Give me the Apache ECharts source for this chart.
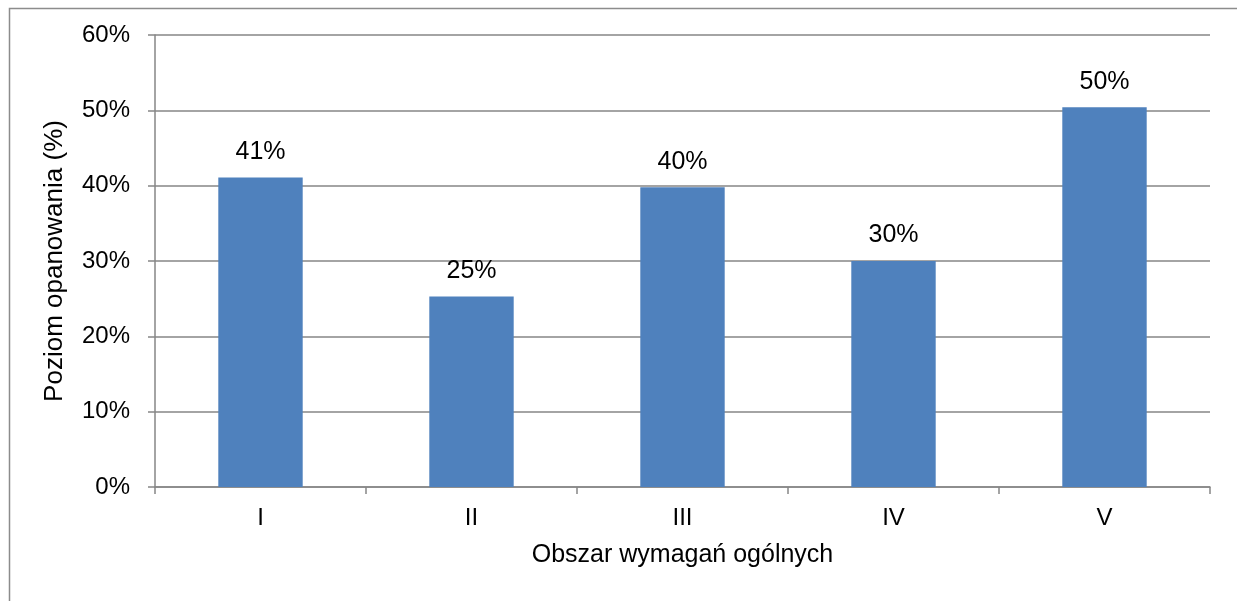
<!DOCTYPE html>
<html><head><meta charset="utf-8">
<script src="https://cdn.jsdelivr.net/npm/echarts@6/dist/echarts.min.js"></script>
<style>html,body{margin:0;padding:0;background:#fff}#c{width:1237px;height:601px}</style>
</head><body><div id="c"></div>
<script>
const categories = ['I', 'II', 'III', 'IV', 'V'];
const values = [0.411, 0.253, 0.398, 0.300, 0.504];
const yTicks = [0, 0.1, 0.2, 0.3, 0.4, 0.5, 0.6];
const xAxisTitle = 'Obszar wymagań ogólnych';
const yAxisTitle = 'Poziom opanowania (%)';

const chart = echarts.init(document.getElementById('c'), null, {renderer: 'canvas'});
const font = 'Liberation Sans, Arial, sans-serif';
chart.setOption({
  animation: false,
  graphic: [{type: 'rect', left: 7, top: 6, shape: {width: 1260, height: 620}, style: {fill: 'none', stroke: '#8c8c8c', lineWidth: 1.5}, silent: true}],
  grid: {left: 155, right: 27, top: 35, bottom: 114},
  xAxis: {
    type: 'category', data: categories,
    name: xAxisTitle, nameLocation: 'middle', nameGap: 56,
    nameTextStyle: {fontFamily: font, fontSize: 25, color: '#000'},
    axisLine: {lineStyle: {color: '#868686', width: 1.5}},
    axisTick: {show: true, length: 7, lineStyle: {color: '#868686', width: 1.5}},
    axisLabel: {fontFamily: font, fontSize: 24, color: '#000', margin: 19}
  },
  yAxis: {
    type: 'value', min: yTicks[0], max: yTicks[yTicks.length - 1], interval: 0.1,
    name: yAxisTitle, nameLocation: 'middle', nameGap: 87,
    nameTextStyle: {fontFamily: font, fontSize: 26, color: '#000'},
    axisLine: {show: true, lineStyle: {color: '#868686', width: 1.5}},
    axisTick: {show: true, length: 7, lineStyle: {color: '#868686', width: 1.5}},
    splitLine: {lineStyle: {color: '#868686', width: 1.5}},
    axisLabel: {fontFamily: font, fontSize: 24, color: '#000', margin: 25,
      formatter: v => Math.round(v * 100) + '%'}
  },
  series: [{
    type: 'bar', data: values, barWidth: '40%',
    itemStyle: {color: '#4F81BD'},
    label: {show: true, position: 'top', distance: 13, fontFamily: font, fontSize: 25, color: '#000',
      formatter: p => Math.round(p.value * 100) + '%'}
  }]
});
</script></body></html>
